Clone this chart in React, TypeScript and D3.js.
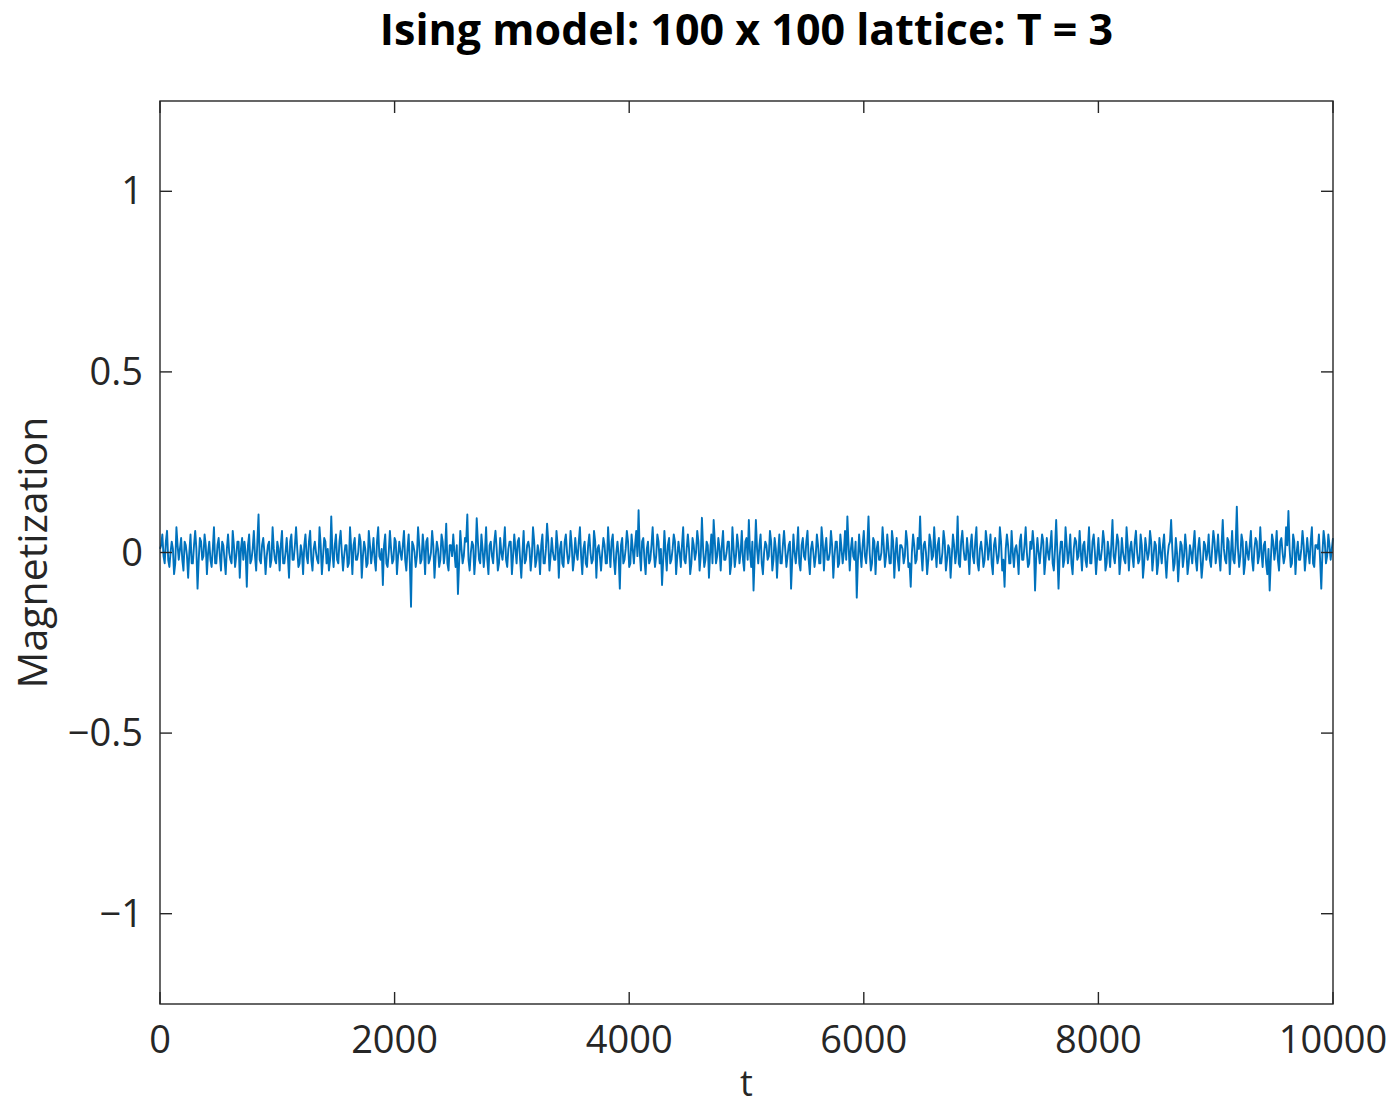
import React from "react";
import * as d3 from "d3";

const title = "Ising model: 100 x 100 lattice: T = 3";
const xLabel = "t";
const yLabel = "Magnetization";
const xTicks = [0, 2000, 4000, 6000, 8000, 10000];
const yTicks = [-1, -0.5, 0, 0.5, 1];
const yTickLabels = ["\u22121", "\u22120.5", "0", "0.5", "1"];

// magnetization at t = 0, 20, 40, ..., 10000
const magnetizationEven: number[] = [
  0.01, 0.05, -0.03, 0.06, -0.04, 0.03, -0.06, 0.07, -0.02, 0.04, -0.05, 0.02, -0.07, 0.05, -0.03, 0.06, -0.10, 0.04, -0.02, 0.05, -0.06, 0.03, -0.04, 0.07, -0.03,
  0.04, -0.05, 0.02, -0.06, 0.05, -0.02, 0.06, -0.04, 0.03, -0.07, 0.04, 0.03, -0.095, 0.05, -0.02, 0.06, -0.05, 0.105, -0.03, 0.04, -0.06, 0.02, -0.04, 0.07, -0.02,
  0.03, -0.05, 0.06, -0.03, 0.04, -0.07, 0.05, -0.02, 0.07, -0.04, 0.02, -0.06, 0.05, -0.03, 0.06, -0.05, 0.03, -0.02, 0.07, -0.06, 0.04, -0.03, -0.05, 0.10, -0.04,
  0.05, -0.03, 0.06, -0.05, 0.02, -0.04, 0.07, -0.06, 0.04, -0.02, 0.05, -0.07, 0.03, -0.04, 0.06, -0.03, 0.04, -0.05, 0.07, -0.02, -0.09, 0.05, -0.04, 0.06, -0.03,
  0.04, -0.06, 0.03, -0.02, 0.06, -0.05, 0.05, -0.15, 0.02, -0.04, 0.07, -0.03, 0.05, -0.06, 0.04, -0.02, 0.06, -0.07, 0.03, -0.04, 0.05, -0.03, 0.08, -0.05, 0.02,
  0.05, -0.04, -0.115, 0.06, -0.03, 0.04, 0.105, -0.05, 0.03, -0.06, 0.095, -0.02, 0.05, -0.04, 0.07, -0.06, 0.03, -0.03, 0.06, -0.05, 0.04, -0.02, 0.07, -0.04, 0.03,
  -0.06, 0.05, -0.03, 0.04, -0.07, 0.06, -0.02, 0.03, -0.05, 0.07, -0.04, 0.02, -0.06, 0.05, -0.03, 0.08, -0.05, 0.04, -0.02, 0.06, -0.07, 0.03, -0.04, 0.05, -0.03,
  0.06, -0.05, 0.04, -0.02, 0.07, -0.06, 0.03, -0.04, 0.05, -0.03, 0.06, -0.07, 0.02, -0.05, 0.04, -0.03, 0.07, -0.04, 0.05, -0.06, 0.03, -0.10, 0.04, -0.02, 0.06,
  -0.04, 0.05, -0.03, 0.06, 0.117, -0.05, 0.04, -0.06, 0.03, -0.02, 0.07, -0.04, 0.05, -0.03, -0.09, 0.06, -0.05, 0.04, -0.02, 0.05, -0.06, 0.03, -0.04, 0.07, -0.03,
  0.05, -0.06, 0.04, -0.02, 0.06, -0.05, 0.096, -0.04, 0.03, -0.07, 0.05, 0.09, -0.03, 0.04, -0.05, 0.06, -0.02, 0.03, -0.06, 0.07, -0.04, 0.05, -0.03, 0.06, -0.05,
  0.04, 0.09, -0.04, -0.105, 0.09, -0.03, 0.05, -0.06, 0.03, -0.02, 0.06, -0.05, 0.04, -0.07, 0.05, -0.03, 0.06, -0.04, 0.02, -0.10, 0.05, -0.03, 0.07, -0.05, 0.04,
  -0.02, 0.06, -0.06, 0.03, -0.04, 0.05, -0.03, 0.07, -0.05, 0.04, -0.02, 0.06, -0.07, 0.03, -0.04, 0.05, -0.03, 0.06, 0.10, -0.05, 0.04, -0.02, -0.125, 0.05, -0.04,
  0.06, -0.03, 0.10, -0.05, 0.04, -0.06, 0.03, -0.02, 0.07, -0.04, 0.05, -0.03, 0.06, -0.07, 0.04, -0.05, 0.02, -0.03, 0.06, -0.04, -0.095, 0.05, -0.03, 0.04, 0.10,
  -0.05, 0.03, -0.06, 0.05, -0.02, 0.07, -0.04, 0.04, -0.03, 0.06, -0.05, 0.02, -0.07, 0.05, -0.03, 0.10, -0.04, 0.06, -0.02, 0.04, -0.06, 0.05, -0.03, 0.07, -0.05,
  0.03, -0.04, 0.06, -0.02, 0.05, -0.06, 0.04, -0.03, 0.07, -0.05, -0.095, 0.05, -0.03, 0.06, -0.04, 0.02, -0.06, 0.05, -0.02, 0.07, -0.04, 0.03, 0.06, -0.105, 0.04,
  -0.03, 0.05, -0.06, 0.04, -0.02, 0.06, -0.05, 0.09, -0.10, 0.03, -0.04, 0.07, -0.03, 0.05, -0.06, 0.04, -0.02, 0.06, -0.05, 0.03, -0.04, 0.07, -0.03, 0.05, -0.06,
  0.04, -0.02, 0.06, -0.05, 0.03, -0.04, 0.09, -0.03, 0.05, -0.06, 0.04, -0.02, 0.07, -0.05, 0.03, -0.04, 0.06, -0.03, 0.05, -0.07, 0.04, -0.02, 0.06, -0.05, 0.03,
  -0.06, 0.04, -0.03, 0.05, -0.07, 0.02, 0.09, -0.05, 0.04, -0.08, 0.03, -0.04, 0.05, -0.06, 0.02, -0.03, 0.06, -0.05, 0.04, -0.07, 0.03, -0.02, 0.05, -0.04, 0.06,
  -0.03, 0.05, -0.05, 0.09, -0.02, 0.04, -0.06, 0.06, -0.03, 0.127, -0.04, 0.05, -0.06, 0.03, -0.02, 0.06, -0.05, 0.04, -0.03, 0.07, -0.04, 0.03, -0.06, -0.105, 0.05,
  -0.02, 0.06, -0.05, 0.04, -0.03, 0.07, 0.115, -0.04, 0.05, -0.06, 0.03, -0.02, 0.06, -0.05, 0.04, -0.03, 0.07, -0.04, 0.02, 0.05, -0.10, 0.06, -0.03, 0.05, -0.02,
  0.04,
];

// magnetization at t = 10, 30, 50, ..., 9990 (the dense core of the band)
const magnetizationOdd: number[] = [
  0.02, -0.01, 0.03, -0.02, 0.00, 0.01, -0.03, 0.02, 0.01, -0.02, 0.03, -0.01, 0.00, -0.03, 0.02, 0.01, -0.02, 0.03, -0.01, 0.02, 0.00, -0.02, 0.01, -0.03, 0.02,
  -0.01, 0.03, -0.02, 0.01, 0.00, -0.03, 0.02, -0.01, 0.03, 0.01, -0.02, 0.00, 0.02, -0.03, 0.01, -0.01, 0.03, -0.02, 0.02, 0.00, -0.01, 0.03, -0.02, 0.01, -0.03,
  0.01, 0.02, -0.03, 0.00, -0.01, 0.03, -0.02, 0.02, 0.01, -0.03, 0.00, 0.02, -0.01, 0.03, -0.02, 0.01, 0.00, -0.03, 0.02, -0.01, 0.03, 0.01, -0.02, 0.00, 0.02,
  -0.02, 0.03, 0.00, -0.01, 0.02, -0.03, 0.01, 0.02, -0.02, 0.00, 0.03, -0.01, 0.01, -0.03, 0.02, 0.00, -0.02, 0.03, -0.01, 0.01, 0.02, -0.03, 0.00, 0.01, -0.02,
  0.03, -0.01, 0.00, 0.02, -0.02, 0.01, -0.03, 0.03, 0.00, -0.01, 0.02, -0.02, 0.01, 0.03, -0.03, 0.00, 0.02, -0.01, 0.01, -0.02, 0.03, 0.00, -0.03, 0.02, -0.01,
  0.00, 0.02, -0.03, 0.01, -0.01, 0.03, -0.02, 0.00, 0.02, -0.01, 0.03, -0.03, 0.01, 0.00, -0.02, 0.02, -0.01, 0.03, 0.01, -0.03, 0.00, 0.02, -0.02, 0.01, 0.03,
  -0.01, 0.01, 0.03, -0.02, 0.00, -0.03, 0.02, 0.01, -0.01, 0.03, -0.02, 0.00, 0.02, -0.03, 0.01, 0.03, -0.01, 0.00, -0.02, 0.02, 0.01, -0.03, 0.03, 0.00, -0.01,
  0.02, -0.02, 0.00, 0.03, -0.01, 0.01, -0.03, 0.02, 0.00, -0.02, 0.03, 0.01, -0.01, 0.00, 0.02, -0.03, 0.01, 0.03, -0.02, 0.00, -0.01, 0.02, -0.03, 0.01, 0.03,
  -0.03, 0.01, 0.02, -0.01, 0.00, 0.03, -0.02, 0.01, -0.03, 0.02, 0.00, -0.01, 0.03, 0.01, -0.02, 0.00, 0.02, -0.03, 0.01, 0.03, -0.01, 0.00, 0.02, -0.02, 0.01,
  0.01, -0.03, 0.02, 0.00, 0.03, -0.01, 0.01, -0.02, 0.02, 0.00, -0.03, 0.03, -0.01, 0.01, 0.02, -0.02, 0.00, 0.03, -0.03, 0.01, -0.01, 0.02, 0.00, -0.02, 0.03,
  -0.02, 0.00, 0.03, -0.01, 0.01, 0.02, -0.03, 0.00, 0.02, -0.01, 0.03, -0.02, 0.01, 0.00, -0.03, 0.02, 0.01, -0.01, 0.03, -0.02, 0.00, 0.01, -0.03, 0.02, -0.01,
  0.03, -0.02, 0.01, 0.00, -0.01, 0.02, -0.03, 0.03, 0.01, -0.02, 0.00, 0.02, -0.01, 0.03, -0.03, 0.01, 0.00, -0.02, 0.02, 0.01, -0.01, 0.03, -0.02, 0.00, 0.02,
  -0.01, 0.02, 0.00, -0.03, 0.03, 0.01, -0.02, 0.00, 0.02, -0.01, 0.01, -0.03, 0.03, 0.00, -0.02, 0.02, 0.01, -0.01, 0.03, -0.03, 0.00, 0.02, -0.02, 0.01, 0.00,
  0.02, 0.00, -0.02, 0.03, -0.01, 0.01, 0.02, -0.03, 0.00, 0.03, -0.02, 0.01, -0.01, 0.02, 0.00, -0.03, 0.03, 0.01, -0.02, 0.00, 0.02, -0.01, 0.03, -0.03, 0.01,
  0.00, -0.02, 0.03, 0.01, -0.03, 0.02, 0.00, -0.01, 0.03, -0.02, 0.01, 0.02, -0.03, 0.00, 0.01, -0.01, 0.03, -0.02, 0.02, 0.00, -0.03, 0.01, 0.02, -0.01, 0.00,
  0.01, 0.03, -0.02, 0.00, 0.02, -0.03, 0.01, 0.00, -0.01, 0.03, -0.02, 0.02, 0.00, -0.03, 0.01, 0.03, -0.01, 0.00, 0.02, -0.02, 0.01, -0.03, 0.03, 0.00, -0.01,
  -0.02, 0.01, 0.03, -0.03, 0.00, 0.02, -0.01, 0.01, 0.03, -0.02, 0.00, -0.03, 0.02, 0.01, -0.01, 0.03, 0.00, -0.02, 0.02, -0.03, 0.01, 0.00, 0.03, -0.01, 0.02,
  -0.03, 0.00, 0.02, -0.02, -0.01, 0.03, 0.01, -0.03, 0.00, -0.02, 0.02, -0.01, 0.01, -0.03, 0.00, 0.02, -0.02, 0.01, -0.01, -0.03, 0.02, 0.00, -0.02, 0.01, 0.03,
  0.00, -0.01, 0.02, 0.01, -0.03, 0.03, 0.00, -0.02, 0.02, 0.01, -0.01, 0.03, -0.03, 0.00, 0.02, -0.02, 0.01, 0.03, -0.01, 0.00, 0.02, -0.03, 0.01, -0.02, 0.03,
  0.01, -0.02, 0.03, 0.00, -0.01, 0.02, 0.01, -0.03, 0.03, 0.00, -0.02, 0.01, 0.02, -0.01, 0.00, 0.03, -0.03, 0.02, 0.01, -0.02, 0.00, 0.03, -0.01, 0.02, 0.01,
];

const W = 1399;
const H = 1107;
const M = { left: 160, right: 1333, top: 101, bottom: 1004 };
const axisColor = "#262626";
const lineColor = "#0072BD";
const font = "'Open Sans', 'DejaVu Sans', sans-serif";

type Pt = { t: number; m: number };

export default function App() {
  const series: Pt[] = [];
  magnetizationEven.forEach((m, i) => {
    series.push({ t: i * 20, m });
    if (i < magnetizationOdd.length) series.push({ t: i * 20 + 10, m: magnetizationOdd[i] });
  });

  const x = d3.scaleLinear().domain([0, 10000]).range([M.left, M.right]);
  const y = d3.scaleLinear().domain([-1.25, 1.25]).range([M.bottom, M.top]);
  const line = d3
    .line<Pt>()
    .x((d) => x(d.t))
    .y((d) => y(d.m));
  const tickLen = 12;
  const cx = (M.left + M.right) / 2;
  const cy = (M.top + M.bottom) / 2;

  return (
    <div style={{ position: "absolute", left: 0, top: 0 }}>
      <svg width={W} height={H} style={{ display: "block", background: "#fff" }}>
        <rect x={0} y={0} width={W} height={H} fill="#fff" />
        <path d={line(series) || ""} fill="none" stroke={lineColor} strokeWidth={1.9} strokeLinejoin="round" />
        <rect
          x={M.left}
          y={M.top}
          width={M.right - M.left}
          height={M.bottom - M.top}
          fill="none"
          stroke={axisColor}
          strokeWidth={1.4}
        />
        {xTicks.map((t) => (
          <g key={"x" + t}>
            <line x1={x(t)} x2={x(t)} y1={M.bottom} y2={M.bottom - tickLen} stroke={axisColor} strokeWidth={1.4} />
            <line x1={x(t)} x2={x(t)} y1={M.top} y2={M.top + tickLen} stroke={axisColor} strokeWidth={1.4} />
            <text x={x(t)} y={1053} textAnchor="middle" fontFamily={font} fontSize={38} fill={axisColor}>
              {String(t)}
            </text>
          </g>
        ))}
        {yTicks.map((v, i) => (
          <g key={"y" + v}>
            <line x1={M.left} x2={M.left + tickLen} y1={y(v)} y2={y(v)} stroke={axisColor} strokeWidth={1.4} />
            <line x1={M.right} x2={M.right - tickLen} y1={y(v)} y2={y(v)} stroke={axisColor} strokeWidth={1.4} />
            <text x={143} y={y(v) + 13} textAnchor="end" fontFamily={font} fontSize={38} fill={axisColor}>
              {yTickLabels[i]}
            </text>
          </g>
        ))}
        <text x={cx} y={45} textAnchor="middle" fontFamily={font} fontWeight="bold" fontSize={43} fill="#000">
          {title}
        </text>
        <text x={cx} y={1096} textAnchor="middle" fontFamily={font} fontSize={36} fill={axisColor}>
          {xLabel}
        </text>
        <text
          transform={`translate(47, ${cy}) rotate(-90)`}
          textAnchor="middle"
          fontFamily={font}
          fontSize={41}
          fill={axisColor}
        >
          {yLabel}
        </text>
      </svg>
    </div>
  );
}
